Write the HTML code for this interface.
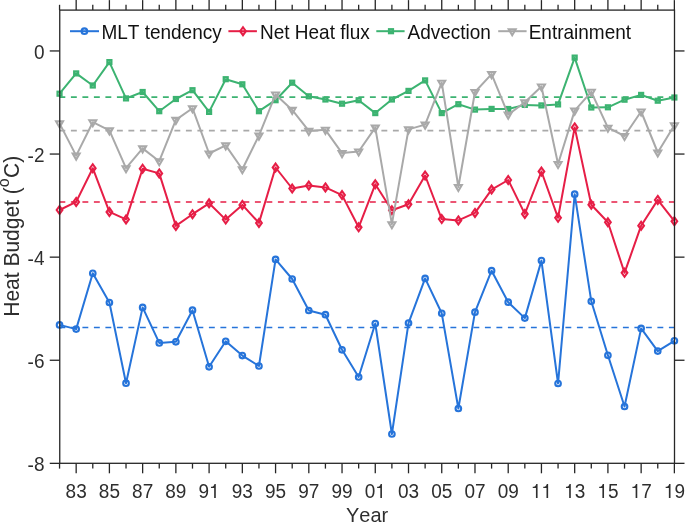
<!DOCTYPE html>
<html><head><meta charset="utf-8"><style>
html,body{margin:0;padding:0;background:#fff;}
body{width:685px;height:523px;overflow:hidden;font-family:"Liberation Sans",sans-serif;}
svg{display:block;will-change:transform;}
text{font-kerning:none;font-feature-settings:"kern" 0;}
</style></head><body>
<svg width="685" height="523" viewBox="0 0 685 523">
<defs><clipPath id="c"><rect x="59.75" y="10.1" width="614.75" height="453.2"/></clipPath></defs><g clip-path="url(#c)">
<line x1="59.75" y1="327.5" x2="674.5" y2="327.5" stroke="#2674DA" stroke-width="1.6" stroke-dasharray="5.9 5.6" stroke-dashoffset="0.35"/>
<line x1="59.75" y1="202.0" x2="674.5" y2="202.0" stroke="#E61E46" stroke-width="1.6" stroke-dasharray="5.9 5.6" stroke-dashoffset="0.35"/>
<line x1="59.75" y1="97.1" x2="674.5" y2="97.1" stroke="#3CB371" stroke-width="1.6" stroke-dasharray="5.9 5.6" stroke-dashoffset="0.35"/>
<line x1="59.75" y1="130.6" x2="674.5" y2="130.6" stroke="#A9A9A9" stroke-width="1.6" stroke-dasharray="5.9 5.6" stroke-dashoffset="0.35"/>
</g>
<polyline points="59.55,324.90 76.17,329.10 92.78,273.30 109.40,302.50 126.02,383.20 142.63,307.40 159.25,342.90 175.87,341.80 192.49,310.20 209.10,366.80 225.72,341.30 242.34,355.60 258.95,366.00 275.57,259.40 292.19,279.00 308.81,310.50 325.42,314.70 342.04,349.80 358.66,377.00 375.27,323.50 391.89,434.00 408.51,323.10 425.12,278.40 441.74,313.30 458.36,408.50 474.98,312.20 491.59,270.70 508.21,302.20 524.83,318.10 541.44,260.60 558.06,383.50 574.68,194.20 591.29,301.30 607.91,355.30 624.53,406.50 641.14,328.40 657.76,351.10 674.38,340.80" fill="none" stroke="#2674DA" stroke-width="2.0" stroke-linejoin="round"/>
<circle cx="59.55" cy="324.90" r="2.8" fill="none" stroke="#2674DA" stroke-width="2.1"/><circle cx="76.17" cy="329.10" r="2.8" fill="none" stroke="#2674DA" stroke-width="2.1"/><circle cx="92.78" cy="273.30" r="2.8" fill="none" stroke="#2674DA" stroke-width="2.1"/><circle cx="109.40" cy="302.50" r="2.8" fill="none" stroke="#2674DA" stroke-width="2.1"/><circle cx="126.02" cy="383.20" r="2.8" fill="none" stroke="#2674DA" stroke-width="2.1"/><circle cx="142.63" cy="307.40" r="2.8" fill="none" stroke="#2674DA" stroke-width="2.1"/><circle cx="159.25" cy="342.90" r="2.8" fill="none" stroke="#2674DA" stroke-width="2.1"/><circle cx="175.87" cy="341.80" r="2.8" fill="none" stroke="#2674DA" stroke-width="2.1"/><circle cx="192.49" cy="310.20" r="2.8" fill="none" stroke="#2674DA" stroke-width="2.1"/><circle cx="209.10" cy="366.80" r="2.8" fill="none" stroke="#2674DA" stroke-width="2.1"/><circle cx="225.72" cy="341.30" r="2.8" fill="none" stroke="#2674DA" stroke-width="2.1"/><circle cx="242.34" cy="355.60" r="2.8" fill="none" stroke="#2674DA" stroke-width="2.1"/><circle cx="258.95" cy="366.00" r="2.8" fill="none" stroke="#2674DA" stroke-width="2.1"/><circle cx="275.57" cy="259.40" r="2.8" fill="none" stroke="#2674DA" stroke-width="2.1"/><circle cx="292.19" cy="279.00" r="2.8" fill="none" stroke="#2674DA" stroke-width="2.1"/><circle cx="308.81" cy="310.50" r="2.8" fill="none" stroke="#2674DA" stroke-width="2.1"/><circle cx="325.42" cy="314.70" r="2.8" fill="none" stroke="#2674DA" stroke-width="2.1"/><circle cx="342.04" cy="349.80" r="2.8" fill="none" stroke="#2674DA" stroke-width="2.1"/><circle cx="358.66" cy="377.00" r="2.8" fill="none" stroke="#2674DA" stroke-width="2.1"/><circle cx="375.27" cy="323.50" r="2.8" fill="none" stroke="#2674DA" stroke-width="2.1"/><circle cx="391.89" cy="434.00" r="2.8" fill="none" stroke="#2674DA" stroke-width="2.1"/><circle cx="408.51" cy="323.10" r="2.8" fill="none" stroke="#2674DA" stroke-width="2.1"/><circle cx="425.12" cy="278.40" r="2.8" fill="none" stroke="#2674DA" stroke-width="2.1"/><circle cx="441.74" cy="313.30" r="2.8" fill="none" stroke="#2674DA" stroke-width="2.1"/><circle cx="458.36" cy="408.50" r="2.8" fill="none" stroke="#2674DA" stroke-width="2.1"/><circle cx="474.98" cy="312.20" r="2.8" fill="none" stroke="#2674DA" stroke-width="2.1"/><circle cx="491.59" cy="270.70" r="2.8" fill="none" stroke="#2674DA" stroke-width="2.1"/><circle cx="508.21" cy="302.20" r="2.8" fill="none" stroke="#2674DA" stroke-width="2.1"/><circle cx="524.83" cy="318.10" r="2.8" fill="none" stroke="#2674DA" stroke-width="2.1"/><circle cx="541.44" cy="260.60" r="2.8" fill="none" stroke="#2674DA" stroke-width="2.1"/><circle cx="558.06" cy="383.50" r="2.8" fill="none" stroke="#2674DA" stroke-width="2.1"/><circle cx="574.68" cy="194.20" r="2.8" fill="none" stroke="#2674DA" stroke-width="2.1"/><circle cx="591.29" cy="301.30" r="2.8" fill="none" stroke="#2674DA" stroke-width="2.1"/><circle cx="607.91" cy="355.30" r="2.8" fill="none" stroke="#2674DA" stroke-width="2.1"/><circle cx="624.53" cy="406.50" r="2.8" fill="none" stroke="#2674DA" stroke-width="2.1"/><circle cx="641.14" cy="328.40" r="2.8" fill="none" stroke="#2674DA" stroke-width="2.1"/><circle cx="657.76" cy="351.10" r="2.8" fill="none" stroke="#2674DA" stroke-width="2.1"/><circle cx="674.38" cy="340.80" r="2.8" fill="none" stroke="#2674DA" stroke-width="2.1"/>
<polyline points="59.55,210.00 76.17,201.90 92.78,168.20 109.40,211.90 126.02,219.40 142.63,168.70 159.25,173.40 175.87,225.90 192.49,214.20 209.10,203.30 225.72,219.60 242.34,204.90 258.95,222.90 275.57,167.50 292.19,188.50 308.81,185.50 325.42,187.40 342.04,195.10 358.66,227.30 375.27,184.30 391.89,210.20 408.51,204.30 425.12,175.50 441.74,219.10 458.36,220.40 474.98,212.90 491.59,189.60 508.21,180.00 524.83,213.90 541.44,171.50 558.06,217.80 574.68,127.40 591.29,204.70 607.91,222.30 624.53,272.80 641.14,225.70 657.76,199.90 674.38,221.20" fill="none" stroke="#E61E46" stroke-width="2.0" stroke-linejoin="round"/>
<path d="M59.55,206.05L62.40,210.00L59.55,213.95L56.70,210.00Z" fill="none" stroke="#E61E46" stroke-width="2.1"/><path d="M76.17,197.95L79.02,201.90L76.17,205.85L73.32,201.90Z" fill="none" stroke="#E61E46" stroke-width="2.1"/><path d="M92.78,164.25L95.63,168.20L92.78,172.15L89.93,168.20Z" fill="none" stroke="#E61E46" stroke-width="2.1"/><path d="M109.40,207.95L112.25,211.90L109.40,215.85L106.55,211.90Z" fill="none" stroke="#E61E46" stroke-width="2.1"/><path d="M126.02,215.45L128.87,219.40L126.02,223.35L123.17,219.40Z" fill="none" stroke="#E61E46" stroke-width="2.1"/><path d="M142.63,164.75L145.48,168.70L142.63,172.65L139.78,168.70Z" fill="none" stroke="#E61E46" stroke-width="2.1"/><path d="M159.25,169.45L162.10,173.40L159.25,177.35L156.40,173.40Z" fill="none" stroke="#E61E46" stroke-width="2.1"/><path d="M175.87,221.95L178.72,225.90L175.87,229.85L173.02,225.90Z" fill="none" stroke="#E61E46" stroke-width="2.1"/><path d="M192.49,210.25L195.34,214.20L192.49,218.15L189.64,214.20Z" fill="none" stroke="#E61E46" stroke-width="2.1"/><path d="M209.10,199.35L211.95,203.30L209.10,207.25L206.25,203.30Z" fill="none" stroke="#E61E46" stroke-width="2.1"/><path d="M225.72,215.65L228.57,219.60L225.72,223.55L222.87,219.60Z" fill="none" stroke="#E61E46" stroke-width="2.1"/><path d="M242.34,200.95L245.19,204.90L242.34,208.85L239.49,204.90Z" fill="none" stroke="#E61E46" stroke-width="2.1"/><path d="M258.95,218.95L261.80,222.90L258.95,226.85L256.10,222.90Z" fill="none" stroke="#E61E46" stroke-width="2.1"/><path d="M275.57,163.55L278.42,167.50L275.57,171.45L272.72,167.50Z" fill="none" stroke="#E61E46" stroke-width="2.1"/><path d="M292.19,184.55L295.04,188.50L292.19,192.45L289.34,188.50Z" fill="none" stroke="#E61E46" stroke-width="2.1"/><path d="M308.81,181.55L311.66,185.50L308.81,189.45L305.95,185.50Z" fill="none" stroke="#E61E46" stroke-width="2.1"/><path d="M325.42,183.45L328.27,187.40L325.42,191.35L322.57,187.40Z" fill="none" stroke="#E61E46" stroke-width="2.1"/><path d="M342.04,191.15L344.89,195.10L342.04,199.05L339.19,195.10Z" fill="none" stroke="#E61E46" stroke-width="2.1"/><path d="M358.66,223.35L361.51,227.30L358.66,231.25L355.81,227.30Z" fill="none" stroke="#E61E46" stroke-width="2.1"/><path d="M375.27,180.35L378.12,184.30L375.27,188.25L372.42,184.30Z" fill="none" stroke="#E61E46" stroke-width="2.1"/><path d="M391.89,206.25L394.74,210.20L391.89,214.15L389.04,210.20Z" fill="none" stroke="#E61E46" stroke-width="2.1"/><path d="M408.51,200.35L411.36,204.30L408.51,208.25L405.66,204.30Z" fill="none" stroke="#E61E46" stroke-width="2.1"/><path d="M425.12,171.55L427.97,175.50L425.12,179.45L422.27,175.50Z" fill="none" stroke="#E61E46" stroke-width="2.1"/><path d="M441.74,215.15L444.59,219.10L441.74,223.05L438.89,219.10Z" fill="none" stroke="#E61E46" stroke-width="2.1"/><path d="M458.36,216.45L461.21,220.40L458.36,224.35L455.51,220.40Z" fill="none" stroke="#E61E46" stroke-width="2.1"/><path d="M474.98,208.95L477.83,212.90L474.98,216.85L472.12,212.90Z" fill="none" stroke="#E61E46" stroke-width="2.1"/><path d="M491.59,185.65L494.44,189.60L491.59,193.55L488.74,189.60Z" fill="none" stroke="#E61E46" stroke-width="2.1"/><path d="M508.21,176.05L511.06,180.00L508.21,183.95L505.36,180.00Z" fill="none" stroke="#E61E46" stroke-width="2.1"/><path d="M524.83,209.95L527.68,213.90L524.83,217.85L521.98,213.90Z" fill="none" stroke="#E61E46" stroke-width="2.1"/><path d="M541.44,167.55L544.29,171.50L541.44,175.45L538.59,171.50Z" fill="none" stroke="#E61E46" stroke-width="2.1"/><path d="M558.06,213.85L560.91,217.80L558.06,221.75L555.21,217.80Z" fill="none" stroke="#E61E46" stroke-width="2.1"/><path d="M574.68,123.45L577.53,127.40L574.68,131.35L571.83,127.40Z" fill="none" stroke="#E61E46" stroke-width="2.1"/><path d="M591.29,200.75L594.14,204.70L591.29,208.65L588.44,204.70Z" fill="none" stroke="#E61E46" stroke-width="2.1"/><path d="M607.91,218.35L610.76,222.30L607.91,226.25L605.06,222.30Z" fill="none" stroke="#E61E46" stroke-width="2.1"/><path d="M624.53,268.85L627.38,272.80L624.53,276.75L621.68,272.80Z" fill="none" stroke="#E61E46" stroke-width="2.1"/><path d="M641.14,221.75L644.00,225.70L641.14,229.65L638.29,225.70Z" fill="none" stroke="#E61E46" stroke-width="2.1"/><path d="M657.76,195.95L660.61,199.90L657.76,203.85L654.91,199.90Z" fill="none" stroke="#E61E46" stroke-width="2.1"/><path d="M674.38,217.25L677.23,221.20L674.38,225.15L671.53,221.20Z" fill="none" stroke="#E61E46" stroke-width="2.1"/>
<polyline points="59.55,93.70 76.17,73.40 92.78,85.50 109.40,62.10 126.02,98.40 142.63,92.00 159.25,111.20 175.87,99.00 192.49,90.20 209.10,111.90 225.72,79.20 242.34,84.30 258.95,111.20 275.57,100.20 292.19,82.70 308.81,96.30 325.42,99.50 342.04,103.70 358.66,100.20 375.27,113.10 391.89,99.50 408.51,90.90 425.12,80.40 441.74,113.10 458.36,104.20 474.98,109.60 491.59,108.90 508.21,109.00 524.83,104.90 541.44,105.40 558.06,104.40 574.68,57.60 591.29,107.50 607.91,107.30 624.53,99.70 641.14,94.90 657.76,100.70 674.38,97.50" fill="none" stroke="#3CB371" stroke-width="2.0" stroke-linejoin="round"/>
<rect x="57.60" y="91.75" width="3.90" height="3.90" fill="none" stroke="#3CB371" stroke-width="2.3"/><rect x="74.22" y="71.45" width="3.90" height="3.90" fill="none" stroke="#3CB371" stroke-width="2.3"/><rect x="90.83" y="83.55" width="3.90" height="3.90" fill="none" stroke="#3CB371" stroke-width="2.3"/><rect x="107.45" y="60.15" width="3.90" height="3.90" fill="none" stroke="#3CB371" stroke-width="2.3"/><rect x="124.07" y="96.45" width="3.90" height="3.90" fill="none" stroke="#3CB371" stroke-width="2.3"/><rect x="140.69" y="90.05" width="3.90" height="3.90" fill="none" stroke="#3CB371" stroke-width="2.3"/><rect x="157.30" y="109.25" width="3.90" height="3.90" fill="none" stroke="#3CB371" stroke-width="2.3"/><rect x="173.92" y="97.05" width="3.90" height="3.90" fill="none" stroke="#3CB371" stroke-width="2.3"/><rect x="190.54" y="88.25" width="3.90" height="3.90" fill="none" stroke="#3CB371" stroke-width="2.3"/><rect x="207.15" y="109.95" width="3.90" height="3.90" fill="none" stroke="#3CB371" stroke-width="2.3"/><rect x="223.77" y="77.25" width="3.90" height="3.90" fill="none" stroke="#3CB371" stroke-width="2.3"/><rect x="240.39" y="82.35" width="3.90" height="3.90" fill="none" stroke="#3CB371" stroke-width="2.3"/><rect x="257.00" y="109.25" width="3.90" height="3.90" fill="none" stroke="#3CB371" stroke-width="2.3"/><rect x="273.62" y="98.25" width="3.90" height="3.90" fill="none" stroke="#3CB371" stroke-width="2.3"/><rect x="290.24" y="80.75" width="3.90" height="3.90" fill="none" stroke="#3CB371" stroke-width="2.3"/><rect x="306.86" y="94.35" width="3.90" height="3.90" fill="none" stroke="#3CB371" stroke-width="2.3"/><rect x="323.47" y="97.55" width="3.90" height="3.90" fill="none" stroke="#3CB371" stroke-width="2.3"/><rect x="340.09" y="101.75" width="3.90" height="3.90" fill="none" stroke="#3CB371" stroke-width="2.3"/><rect x="356.71" y="98.25" width="3.90" height="3.90" fill="none" stroke="#3CB371" stroke-width="2.3"/><rect x="373.32" y="111.15" width="3.90" height="3.90" fill="none" stroke="#3CB371" stroke-width="2.3"/><rect x="389.94" y="97.55" width="3.90" height="3.90" fill="none" stroke="#3CB371" stroke-width="2.3"/><rect x="406.56" y="88.95" width="3.90" height="3.90" fill="none" stroke="#3CB371" stroke-width="2.3"/><rect x="423.17" y="78.45" width="3.90" height="3.90" fill="none" stroke="#3CB371" stroke-width="2.3"/><rect x="439.79" y="111.15" width="3.90" height="3.90" fill="none" stroke="#3CB371" stroke-width="2.3"/><rect x="456.41" y="102.25" width="3.90" height="3.90" fill="none" stroke="#3CB371" stroke-width="2.3"/><rect x="473.03" y="107.65" width="3.90" height="3.90" fill="none" stroke="#3CB371" stroke-width="2.3"/><rect x="489.64" y="106.95" width="3.90" height="3.90" fill="none" stroke="#3CB371" stroke-width="2.3"/><rect x="506.26" y="107.05" width="3.90" height="3.90" fill="none" stroke="#3CB371" stroke-width="2.3"/><rect x="522.88" y="102.95" width="3.90" height="3.90" fill="none" stroke="#3CB371" stroke-width="2.3"/><rect x="539.49" y="103.45" width="3.90" height="3.90" fill="none" stroke="#3CB371" stroke-width="2.3"/><rect x="556.11" y="102.45" width="3.90" height="3.90" fill="none" stroke="#3CB371" stroke-width="2.3"/><rect x="572.73" y="55.65" width="3.90" height="3.90" fill="none" stroke="#3CB371" stroke-width="2.3"/><rect x="589.34" y="105.55" width="3.90" height="3.90" fill="none" stroke="#3CB371" stroke-width="2.3"/><rect x="605.96" y="105.35" width="3.90" height="3.90" fill="none" stroke="#3CB371" stroke-width="2.3"/><rect x="622.58" y="97.75" width="3.90" height="3.90" fill="none" stroke="#3CB371" stroke-width="2.3"/><rect x="639.19" y="92.95" width="3.90" height="3.90" fill="none" stroke="#3CB371" stroke-width="2.3"/><rect x="655.81" y="98.75" width="3.90" height="3.90" fill="none" stroke="#3CB371" stroke-width="2.3"/><rect x="672.43" y="95.55" width="3.90" height="3.90" fill="none" stroke="#3CB371" stroke-width="2.3"/>
<polyline points="59.55,123.40 76.17,155.60 92.78,122.20 109.40,130.40 126.02,168.20 142.63,148.40 159.25,161.20 175.87,119.90 192.49,108.20 209.10,153.50 225.72,145.40 242.34,169.20 258.95,135.60 275.57,94.50 292.19,109.90 308.81,130.90 325.42,129.80 342.04,153.10 358.66,151.50 375.27,127.60 391.89,224.20 408.51,129.40 425.12,124.60 441.74,82.70 458.36,187.00 474.98,92.00 491.59,74.10 508.21,114.60 524.83,102.30 541.44,86.50 558.06,164.00 574.68,110.60 591.29,91.80 607.91,127.70 624.53,136.00 641.14,111.50 657.76,152.50 674.38,125.30" fill="none" stroke="#A9A9A9" stroke-width="2.0" stroke-linejoin="round"/>
<path d="M56.09,121.40L63.01,121.40L59.55,127.40Z" fill="none" stroke="#A9A9A9" stroke-width="2.1"/><path d="M72.70,153.60L79.63,153.60L76.17,159.60Z" fill="none" stroke="#A9A9A9" stroke-width="2.1"/><path d="M89.32,120.20L96.25,120.20L92.78,126.20Z" fill="none" stroke="#A9A9A9" stroke-width="2.1"/><path d="M105.94,128.40L112.86,128.40L109.40,134.40Z" fill="none" stroke="#A9A9A9" stroke-width="2.1"/><path d="M122.55,166.20L129.48,166.20L126.02,172.20Z" fill="none" stroke="#A9A9A9" stroke-width="2.1"/><path d="M139.17,146.40L146.10,146.40L142.63,152.40Z" fill="none" stroke="#A9A9A9" stroke-width="2.1"/><path d="M155.79,159.20L162.72,159.20L159.25,165.20Z" fill="none" stroke="#A9A9A9" stroke-width="2.1"/><path d="M172.41,117.90L179.33,117.90L175.87,123.90Z" fill="none" stroke="#A9A9A9" stroke-width="2.1"/><path d="M189.02,106.20L195.95,106.20L192.49,112.20Z" fill="none" stroke="#A9A9A9" stroke-width="2.1"/><path d="M205.64,151.50L212.57,151.50L209.10,157.50Z" fill="none" stroke="#A9A9A9" stroke-width="2.1"/><path d="M222.26,143.40L229.18,143.40L225.72,149.40Z" fill="none" stroke="#A9A9A9" stroke-width="2.1"/><path d="M238.87,167.20L245.80,167.20L242.34,173.20Z" fill="none" stroke="#A9A9A9" stroke-width="2.1"/><path d="M255.49,133.60L262.42,133.60L258.95,139.60Z" fill="none" stroke="#A9A9A9" stroke-width="2.1"/><path d="M272.11,92.50L279.04,92.50L275.57,98.50Z" fill="none" stroke="#A9A9A9" stroke-width="2.1"/><path d="M288.72,107.90L295.65,107.90L292.19,113.90Z" fill="none" stroke="#A9A9A9" stroke-width="2.1"/><path d="M305.34,128.90L312.27,128.90L308.81,134.90Z" fill="none" stroke="#A9A9A9" stroke-width="2.1"/><path d="M321.96,127.80L328.89,127.80L325.42,133.80Z" fill="none" stroke="#A9A9A9" stroke-width="2.1"/><path d="M338.58,151.10L345.50,151.10L342.04,157.10Z" fill="none" stroke="#A9A9A9" stroke-width="2.1"/><path d="M355.19,149.50L362.12,149.50L358.66,155.50Z" fill="none" stroke="#A9A9A9" stroke-width="2.1"/><path d="M371.81,125.60L378.74,125.60L375.27,131.60Z" fill="none" stroke="#A9A9A9" stroke-width="2.1"/><path d="M388.43,222.20L395.35,222.20L391.89,228.20Z" fill="none" stroke="#A9A9A9" stroke-width="2.1"/><path d="M405.04,127.40L411.97,127.40L408.51,133.40Z" fill="none" stroke="#A9A9A9" stroke-width="2.1"/><path d="M421.66,122.60L428.59,122.60L425.12,128.60Z" fill="none" stroke="#A9A9A9" stroke-width="2.1"/><path d="M438.28,80.70L445.21,80.70L441.74,86.70Z" fill="none" stroke="#A9A9A9" stroke-width="2.1"/><path d="M454.89,185.00L461.82,185.00L458.36,191.00Z" fill="none" stroke="#A9A9A9" stroke-width="2.1"/><path d="M471.51,90.00L478.44,90.00L474.98,96.00Z" fill="none" stroke="#A9A9A9" stroke-width="2.1"/><path d="M488.13,72.10L495.06,72.10L491.59,78.10Z" fill="none" stroke="#A9A9A9" stroke-width="2.1"/><path d="M504.75,112.60L511.67,112.60L508.21,118.60Z" fill="none" stroke="#A9A9A9" stroke-width="2.1"/><path d="M521.36,100.30L528.29,100.30L524.83,106.30Z" fill="none" stroke="#A9A9A9" stroke-width="2.1"/><path d="M537.98,84.50L544.91,84.50L541.44,90.50Z" fill="none" stroke="#A9A9A9" stroke-width="2.1"/><path d="M554.60,162.00L561.52,162.00L558.06,168.00Z" fill="none" stroke="#A9A9A9" stroke-width="2.1"/><path d="M571.21,108.60L578.14,108.60L574.68,114.60Z" fill="none" stroke="#A9A9A9" stroke-width="2.1"/><path d="M587.83,89.80L594.76,89.80L591.29,95.80Z" fill="none" stroke="#A9A9A9" stroke-width="2.1"/><path d="M604.45,125.70L611.38,125.70L607.91,131.70Z" fill="none" stroke="#A9A9A9" stroke-width="2.1"/><path d="M621.06,134.00L627.99,134.00L624.53,140.00Z" fill="none" stroke="#A9A9A9" stroke-width="2.1"/><path d="M637.68,109.50L644.61,109.50L641.14,115.50Z" fill="none" stroke="#A9A9A9" stroke-width="2.1"/><path d="M654.30,150.50L661.23,150.50L657.76,156.50Z" fill="none" stroke="#A9A9A9" stroke-width="2.1"/><path d="M670.91,123.30L677.84,123.30L674.38,129.30Z" fill="none" stroke="#A9A9A9" stroke-width="2.1"/>
<g stroke="#262626" stroke-width="1.3" fill="none"><rect x="59.75" y="10.1" width="614.75" height="453.2"/><line x1="59.55" y1="463.3" x2="59.55" y2="468.6"/><line x1="59.55" y1="10.1" x2="59.55" y2="4.8"/><line x1="76.17" y1="463.3" x2="76.17" y2="473.3"/><line x1="76.17" y1="10.1" x2="76.17" y2="0.09999999999999964"/><line x1="92.78" y1="463.3" x2="92.78" y2="468.6"/><line x1="92.78" y1="10.1" x2="92.78" y2="4.8"/><line x1="109.40" y1="463.3" x2="109.40" y2="473.3"/><line x1="109.40" y1="10.1" x2="109.40" y2="0.09999999999999964"/><line x1="126.02" y1="463.3" x2="126.02" y2="468.6"/><line x1="126.02" y1="10.1" x2="126.02" y2="4.8"/><line x1="142.63" y1="463.3" x2="142.63" y2="473.3"/><line x1="142.63" y1="10.1" x2="142.63" y2="0.09999999999999964"/><line x1="159.25" y1="463.3" x2="159.25" y2="468.6"/><line x1="159.25" y1="10.1" x2="159.25" y2="4.8"/><line x1="175.87" y1="463.3" x2="175.87" y2="473.3"/><line x1="175.87" y1="10.1" x2="175.87" y2="0.09999999999999964"/><line x1="192.49" y1="463.3" x2="192.49" y2="468.6"/><line x1="192.49" y1="10.1" x2="192.49" y2="4.8"/><line x1="209.10" y1="463.3" x2="209.10" y2="473.3"/><line x1="209.10" y1="10.1" x2="209.10" y2="0.09999999999999964"/><line x1="225.72" y1="463.3" x2="225.72" y2="468.6"/><line x1="225.72" y1="10.1" x2="225.72" y2="4.8"/><line x1="242.34" y1="463.3" x2="242.34" y2="473.3"/><line x1="242.34" y1="10.1" x2="242.34" y2="0.09999999999999964"/><line x1="258.95" y1="463.3" x2="258.95" y2="468.6"/><line x1="258.95" y1="10.1" x2="258.95" y2="4.8"/><line x1="275.57" y1="463.3" x2="275.57" y2="473.3"/><line x1="275.57" y1="10.1" x2="275.57" y2="0.09999999999999964"/><line x1="292.19" y1="463.3" x2="292.19" y2="468.6"/><line x1="292.19" y1="10.1" x2="292.19" y2="4.8"/><line x1="308.81" y1="463.3" x2="308.81" y2="473.3"/><line x1="308.81" y1="10.1" x2="308.81" y2="0.09999999999999964"/><line x1="325.42" y1="463.3" x2="325.42" y2="468.6"/><line x1="325.42" y1="10.1" x2="325.42" y2="4.8"/><line x1="342.04" y1="463.3" x2="342.04" y2="473.3"/><line x1="342.04" y1="10.1" x2="342.04" y2="0.09999999999999964"/><line x1="358.66" y1="463.3" x2="358.66" y2="468.6"/><line x1="358.66" y1="10.1" x2="358.66" y2="4.8"/><line x1="375.27" y1="463.3" x2="375.27" y2="473.3"/><line x1="375.27" y1="10.1" x2="375.27" y2="0.09999999999999964"/><line x1="391.89" y1="463.3" x2="391.89" y2="468.6"/><line x1="391.89" y1="10.1" x2="391.89" y2="4.8"/><line x1="408.51" y1="463.3" x2="408.51" y2="473.3"/><line x1="408.51" y1="10.1" x2="408.51" y2="0.09999999999999964"/><line x1="425.12" y1="463.3" x2="425.12" y2="468.6"/><line x1="425.12" y1="10.1" x2="425.12" y2="4.8"/><line x1="441.74" y1="463.3" x2="441.74" y2="473.3"/><line x1="441.74" y1="10.1" x2="441.74" y2="0.09999999999999964"/><line x1="458.36" y1="463.3" x2="458.36" y2="468.6"/><line x1="458.36" y1="10.1" x2="458.36" y2="4.8"/><line x1="474.98" y1="463.3" x2="474.98" y2="473.3"/><line x1="474.98" y1="10.1" x2="474.98" y2="0.09999999999999964"/><line x1="491.59" y1="463.3" x2="491.59" y2="468.6"/><line x1="491.59" y1="10.1" x2="491.59" y2="4.8"/><line x1="508.21" y1="463.3" x2="508.21" y2="473.3"/><line x1="508.21" y1="10.1" x2="508.21" y2="0.09999999999999964"/><line x1="524.83" y1="463.3" x2="524.83" y2="468.6"/><line x1="524.83" y1="10.1" x2="524.83" y2="4.8"/><line x1="541.44" y1="463.3" x2="541.44" y2="473.3"/><line x1="541.44" y1="10.1" x2="541.44" y2="0.09999999999999964"/><line x1="558.06" y1="463.3" x2="558.06" y2="468.6"/><line x1="558.06" y1="10.1" x2="558.06" y2="4.8"/><line x1="574.68" y1="463.3" x2="574.68" y2="473.3"/><line x1="574.68" y1="10.1" x2="574.68" y2="0.09999999999999964"/><line x1="591.29" y1="463.3" x2="591.29" y2="468.6"/><line x1="591.29" y1="10.1" x2="591.29" y2="4.8"/><line x1="607.91" y1="463.3" x2="607.91" y2="473.3"/><line x1="607.91" y1="10.1" x2="607.91" y2="0.09999999999999964"/><line x1="624.53" y1="463.3" x2="624.53" y2="468.6"/><line x1="624.53" y1="10.1" x2="624.53" y2="4.8"/><line x1="641.14" y1="463.3" x2="641.14" y2="473.3"/><line x1="641.14" y1="10.1" x2="641.14" y2="0.09999999999999964"/><line x1="657.76" y1="463.3" x2="657.76" y2="468.6"/><line x1="657.76" y1="10.1" x2="657.76" y2="4.8"/><line x1="674.38" y1="463.3" x2="674.38" y2="473.3"/><line x1="674.38" y1="10.1" x2="674.38" y2="0.09999999999999964"/><line x1="59.75" y1="50.95" x2="49.75" y2="50.95"/><line x1="674.5" y1="50.95" x2="684.5" y2="50.95"/><line x1="59.75" y1="154.05" x2="49.75" y2="154.05"/><line x1="674.5" y1="154.05" x2="684.5" y2="154.05"/><line x1="59.75" y1="257.15" x2="49.75" y2="257.15"/><line x1="674.5" y1="257.15" x2="684.5" y2="257.15"/><line x1="59.75" y1="360.25" x2="49.75" y2="360.25"/><line x1="674.5" y1="360.25" x2="684.5" y2="360.25"/><line x1="59.75" y1="463.35" x2="49.75" y2="463.35"/><line x1="674.5" y1="463.35" x2="684.5" y2="463.35"/></g>
<g font-family="Liberation Sans, sans-serif" font-size="19" fill="#2e2e2e"><text transform="translate(65.60,498.00) scale(1,1.045)" text-anchor="start" >8</text><text transform="translate(76.17,498.00) scale(1,1.045)" text-anchor="start" >3</text><text transform="translate(98.84,498.00) scale(1,1.045)" text-anchor="start" >8</text><text transform="translate(109.40,498.00) scale(1,1.045)" text-anchor="start" >5</text><text transform="translate(132.07,498.00) scale(1,1.045)" text-anchor="start" >8</text><text transform="translate(142.63,498.00) scale(1,1.045)" text-anchor="start" >7</text><text transform="translate(165.31,498.00) scale(1,1.045)" text-anchor="start" >8</text><text transform="translate(175.87,498.00) scale(1,1.045)" text-anchor="start" >9</text><text transform="translate(198.54,498.00) scale(1,1.045)" text-anchor="start" >9</text><path d="M215.79,483.92 L215.79,498.00 L214.16,498.00 L214.16,487.93 L210.97,487.93 L210.97,486.76 C212.71,486.68 214.08,486.09 214.52,483.92Z"/><text transform="translate(231.77,498.00) scale(1,1.045)" text-anchor="start" >9</text><text transform="translate(242.34,498.00) scale(1,1.045)" text-anchor="start" >3</text><text transform="translate(265.01,498.00) scale(1,1.045)" text-anchor="start" >9</text><text transform="translate(275.57,498.00) scale(1,1.045)" text-anchor="start" >5</text><text transform="translate(298.24,498.00) scale(1,1.045)" text-anchor="start" >9</text><text transform="translate(308.81,498.00) scale(1,1.045)" text-anchor="start" >7</text><text transform="translate(331.48,498.00) scale(1,1.045)" text-anchor="start" >9</text><text transform="translate(342.04,498.00) scale(1,1.045)" text-anchor="start" >9</text><text transform="translate(364.71,498.00) scale(1,1.045)" text-anchor="start" >0</text><path d="M381.96,483.92 L381.96,498.00 L380.33,498.00 L380.33,487.93 L377.14,487.93 L377.14,486.76 C378.88,486.68 380.25,486.09 380.69,483.92Z"/><text transform="translate(397.94,498.00) scale(1,1.045)" text-anchor="start" >0</text><text transform="translate(408.51,498.00) scale(1,1.045)" text-anchor="start" >3</text><text transform="translate(431.18,498.00) scale(1,1.045)" text-anchor="start" >0</text><text transform="translate(441.74,498.00) scale(1,1.045)" text-anchor="start" >5</text><text transform="translate(464.41,498.00) scale(1,1.045)" text-anchor="start" >0</text><text transform="translate(474.98,498.00) scale(1,1.045)" text-anchor="start" >7</text><text transform="translate(497.65,498.00) scale(1,1.045)" text-anchor="start" >0</text><text transform="translate(508.21,498.00) scale(1,1.045)" text-anchor="start" >9</text><path d="M537.57,483.92 L537.57,498.00 L535.93,498.00 L535.93,487.93 L532.74,487.93 L532.74,486.76 C534.49,486.68 535.86,486.09 536.29,483.92Z"/><path d="M548.13,483.92 L548.13,498.00 L546.50,498.00 L546.50,487.93 L543.30,487.93 L543.30,486.76 C545.05,486.68 546.42,486.09 546.86,483.92Z"/><path d="M570.80,483.92 L570.80,498.00 L569.17,498.00 L569.17,487.93 L565.98,487.93 L565.98,486.76 C567.72,486.68 569.09,486.09 569.53,483.92Z"/><text transform="translate(574.68,498.00) scale(1,1.045)" text-anchor="start" >3</text><path d="M604.03,483.92 L604.03,498.00 L602.40,498.00 L602.40,487.93 L599.21,487.93 L599.21,486.76 C600.96,486.68 602.32,486.09 602.76,483.92Z"/><text transform="translate(607.91,498.00) scale(1,1.045)" text-anchor="start" >5</text><path d="M637.27,483.92 L637.27,498.00 L635.63,498.00 L635.63,487.93 L632.44,487.93 L632.44,486.76 C634.19,486.68 635.56,486.09 636.00,483.92Z"/><text transform="translate(641.14,498.00) scale(1,1.045)" text-anchor="start" >7</text><path d="M670.50,483.92 L670.50,498.00 L668.87,498.00 L668.87,487.93 L665.68,487.93 L665.68,486.76 C667.43,486.68 668.79,486.09 669.23,483.92Z"/><text transform="translate(674.38,498.00) scale(1,1.045)" text-anchor="start" >9</text><text transform="translate(44.50,58.75) scale(1,1.045)" text-anchor="end" >0</text><text transform="translate(44.50,161.85) scale(1,1.045)" text-anchor="end" ><tspan dy="0.8">-</tspan><tspan dy="-0.8">2</tspan></text><text transform="translate(44.50,264.95) scale(1,1.045)" text-anchor="end" ><tspan dy="0.8">-</tspan><tspan dy="-0.8">4</tspan></text><text transform="translate(44.50,368.05) scale(1,1.045)" text-anchor="end" ><tspan dy="0.8">-</tspan><tspan dy="-0.8">6</tspan></text><text transform="translate(44.50,471.15) scale(1,1.045)" text-anchor="end" ><tspan dy="0.8">-</tspan><tspan dy="-0.8">8</tspan></text><text transform="translate(367.10,522.40) scale(1,1.045)" text-anchor="middle" font-size="20">Year</text><text transform="translate(18.7,236.3) rotate(-90) scale(1,1.045)" text-anchor="middle" font-size="21">Heat Budget (<tspan dy="-9.6" font-size="16">o</tspan><tspan dy="9.6" dx="0.3">C)</tspan></text></g>
<line x1="70" y1="31.2" x2="99" y2="31.2" stroke="#2674DA" stroke-width="2.0"/><circle cx="84.40" cy="31.20" r="2.8" fill="none" stroke="#2674DA" stroke-width="2.1"/><text transform="translate(101.40,38.50) scale(1,1.045)" text-anchor="start" font-family="Liberation Sans, sans-serif" font-size="19" fill="#111">MLT tendency</text><line x1="228.4" y1="31.2" x2="256.9" y2="31.2" stroke="#E61E46" stroke-width="2.0"/><path d="M243.00,27.25L245.85,31.20L243.00,35.15L240.15,31.20Z" fill="none" stroke="#E61E46" stroke-width="2.1"/><text transform="translate(260.00,38.50) scale(1,1.045)" text-anchor="start" font-family="Liberation Sans, sans-serif" font-size="19" fill="#111">Net Heat flux</text><line x1="376.3" y1="31.2" x2="404.6" y2="31.2" stroke="#3CB371" stroke-width="2.0"/><rect x="389.05" y="29.25" width="3.90" height="3.90" fill="none" stroke="#3CB371" stroke-width="2.3"/><text transform="translate(407.50,38.50) scale(1,1.045)" text-anchor="start" font-family="Liberation Sans, sans-serif" font-size="19" fill="#111">Advection</text><line x1="498.2" y1="31.2" x2="526.6" y2="31.2" stroke="#A9A9A9" stroke-width="2.0"/><path d="M508.74,29.20L515.66,29.20L512.20,35.20Z" fill="none" stroke="#A9A9A9" stroke-width="2.1"/><text transform="translate(528.70,38.50) scale(1,1.045)" text-anchor="start" font-family="Liberation Sans, sans-serif" font-size="19" fill="#111">Entrainment</text>
</svg>
</body></html>
